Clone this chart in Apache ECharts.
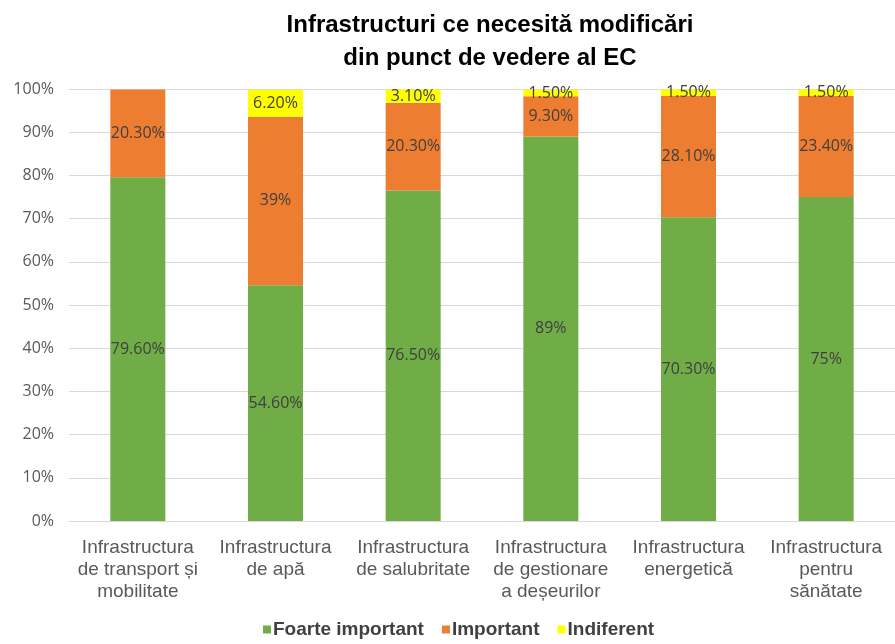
<!DOCTYPE html>
<html>
<head>
<meta charset="utf-8">
<script src="https://cdn.jsdelivr.net/npm/echarts@6/dist/echarts.min.js"></script>
<style>
  html, body { margin: 0; padding: 0; background: #fff; }
  #chart { width: 895px; height: 644px; }
</style>
</head>
<body>
<div id="chart"></div>
<script>
// Categories (infrastructure types)
const categories = [
  'Infrastructura\nde transport și\nmobilitate',
  'Infrastructura\nde apă',
  'Infrastructura\nde salubritate',
  'Infrastructura\nde gestionare\na deșeurilor',
  'Infrastructura\nenergetică',
  'Infrastructura\npentru\nsănătate'
];

// Share of answers per category (%)
const foarteImportant = [79.6, 54.6, 76.5, 89, 70.3, 75];
const important = [20.3, 39, 20.3, 9.3, 28.1, 23.4];
const indiferent = [0, 6.2, 3.1, 1.5, 1.5, 1.5];

const yTicks = [0, 10, 20, 30, 40, 50, 60, 70, 80, 90, 100];

const sans = '"Liberation Sans", Arial, sans-serif';
const labelFont = '"Open Sans", sans-serif';

function fmt(v) {
  return Number.isInteger(v) ? v + '%' : v.toFixed(2) + '%';
}

function seriesOf(name, data, color) {
  return {
    name: name,
    type: 'bar',
    stack: 'total',
    data: data,
    barWidth: 55,
    itemStyle: { color: color },
    label: {
      show: true,
      position: 'inside',
      color: '#404040',
      fontFamily: labelFont,
      fontSize: 16,
      formatter: p => (p.value > 0 ? fmt(p.value) : '')
    }
  };
}

const chart = echarts.init(document.getElementById('chart'));
chart.setOption({
  animation: false,
  backgroundColor: '#ffffff',
  title: {
    text: 'Infrastructuri ce necesită modificări\ndin punct de vedere al EC',
    left: 485,
    textAlign: 'center',
    top: 4,
    textStyle: {
      fontFamily: sans,
      fontWeight: 'bold',
      fontSize: 24,
      lineHeight: 33,
      color: '#000'
    }
  },
  legend: {
    bottom: 0,
    left: 258,
    itemWidth: 8,
    itemHeight: 8,
    itemGap: 18,
    icon: 'rect',
    textStyle: {
      fontFamily: sans,
      fontWeight: 'bold',
      fontSize: 19,
      color: '#404040',
      padding: [0, 0, 0, -3]
    },
    data: ['Foarte important', 'Important', 'Indiferent']
  },
  grid: { left: 69, right: -2, top: 89, bottom: 123, containLabel: false },
  xAxis: {
    type: 'category',
    data: categories,
    axisLine: { show: true, lineStyle: { color: '#d9d9d9' } },
    axisTick: { show: false },
    axisLabel: {
      interval: 0,
      fontFamily: sans,
      fontSize: 19,
      lineHeight: 22,
      color: '#595959',
      margin: 16
    }
  },
  yAxis: {
    type: 'value',
    min: 0,
    max: 100,
    interval: 10,
    axisLine: { show: false },
    axisTick: { show: false },
    splitLine: { lineStyle: { color: '#d9d9d9', width: 1 } },
    axisLabel: {
      fontFamily: labelFont,
      fontSize: 16,
      color: '#595959',
      margin: 15,
      formatter: v => (yTicks.includes(v) ? v + '%' : '')
    }
  },
  series: [
    seriesOf('Foarte important', foarteImportant, '#70ad47'),
    seriesOf('Important', important, '#ed7d31'),
    seriesOf('Indiferent', indiferent, '#ffff00')
  ]
});
</script>
</body>
</html>
